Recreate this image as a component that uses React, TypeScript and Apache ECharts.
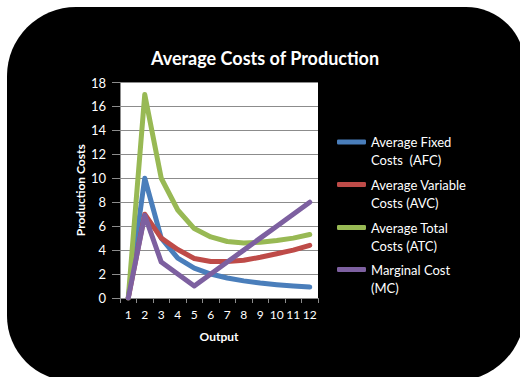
import React, { useEffect, useRef } from "react";
import * as echarts from "echarts";

const categories = ["1", "2", "3", "4", "5", "6", "7", "8", "9", "10", "11", "12"];
const afc = [0, 10, 5, 3.33, 2.5, 2, 1.67, 1.43, 1.25, 1.11, 1.0, 0.91];
const avc = [0, 7, 5, 4.05, 3.3, 3.05, 3.05, 3.15, 3.4, 3.7, 4.0, 4.4];
const atc = [0, 17, 10, 7.35, 5.8, 5.1, 4.72, 4.6, 4.65, 4.8, 5.0, 5.3];
const mc = [0, 6.9, 3, 2, 1, 2, 3, 4, 5, 6, 7, 8];
const yTicks = { min: 0, max: 18, interval: 2 };

const seriesNames = [
  "Average Fixed\nCosts  (AFC)",
  "Average Variable\nCosts (AVC)",
  "Average Total\nCosts (ATC)",
  "Marginal Cost\n(MC)",
];
const seriesData = [afc, avc, atc, mc];
const colors = ["#4A7EBB", "#BE4B48", "#98B954", "#7D60A0"];
const legendIconY = [142, 184.5, 227.5, 269.5];

const FONT = "Lato, 'Liberation Sans', sans-serif";

export default function App() {
  const ref = useRef<HTMLDivElement>(null);
  useEffect(() => {
    if (!ref.current) return;
    const chart = echarts.init(ref.current, undefined, { renderer: "svg" });
    const lineH = 18;
    chart.setOption({
      animation: false,
      backgroundColor: "transparent",
      graphic: [
        {
          type: "text",
          x: 265,
          y: 58,
          style: {
            text: "Average Costs of Production",
            fill: "#fff",
            font: `bold 18px ${FONT}`,
            align: "center",
            verticalAlign: "middle",
          },
        },
      ],
      grid: {
        left: 120,
        right: 202,
        top: 82.5,
        bottom: 79,
        show: true,
        backgroundColor: "#fff",
        borderWidth: 0,
      },
      legend: seriesNames.map((n, i) => ({
        data: [n],
        left: 337,
        top: legendIconY[i] - (lineH * 3) / 2,
        padding: 0,
        orient: "vertical",
        icon: "roundRect",
        itemWidth: 29,
        itemHeight: 5,
        selectedMode: false,
        formatter: (name: string) => " \n" + name,
        textStyle: {
          color: "#fff",
          fontSize: 13,
          fontFamily: FONT,
          lineHeight: lineH,
        },
      })),
      xAxis: {
        type: "category",
        data: categories,
        boundaryGap: true,
        name: "Output",
        nameLocation: "middle",
        nameGap: 32,
        nameTextStyle: { color: "#fff", fontWeight: "bold", fontSize: 12, fontFamily: FONT },
        axisLine: { show: true, lineStyle: { color: "#8c8c8c", width: 1 } },
        axisTick: { show: true, length: 5, lineStyle: { color: "#8c8c8c" } },
        axisLabel: { color: "#fff", fontSize: 12, fontFamily: FONT, margin: 10, interval: 0 },
        splitLine: { show: false },
      },
      yAxis: {
        type: "value",
        min: yTicks.min,
        max: yTicks.max,
        interval: yTicks.interval,
        name: "Production Costs",
        nameLocation: "middle",
        nameGap: 34,
        nameTextStyle: { color: "#fff", fontWeight: "bold", fontSize: 12, fontFamily: FONT },
        axisLine: { show: true, lineStyle: { color: "#8c8c8c", width: 1 } },
        axisTick: { show: true, length: 8, lineStyle: { color: "#8c8c8c" } },
        axisLabel: { color: "#fff", fontSize: 13, fontFamily: FONT, margin: 14 },
        splitLine: { show: true, lineStyle: { color: "#8c8c8c", width: 1 } },
      },
      series: seriesNames.map((n, i) => ({
        name: n,
        type: "line",
        data: seriesData[i],
        symbol: "none",
        showSymbol: false,
        color: colors[i],
        itemStyle: { color: colors[i] },
        lineStyle: { width: 5, color: colors[i], cap: "round", join: "round" },
      })),
    });
    return () => chart.dispose();
  }, []);
  return (
    <div style={{ position: "absolute", left: 0, top: 0, width: 520, height: 377, overflow: "hidden", background: "#fff" }}>
      <div
        style={{
          position: "absolute",
          left: 7,
          top: 7,
          width: 518,
          height: 374,
          background: "#000",
          borderRadius: "69px 59px 70px 65px",
        }}
      />
      <div ref={ref} style={{ position: "absolute", left: 0, top: 0, width: 520, height: 377 }} />
    </div>
  );
}
